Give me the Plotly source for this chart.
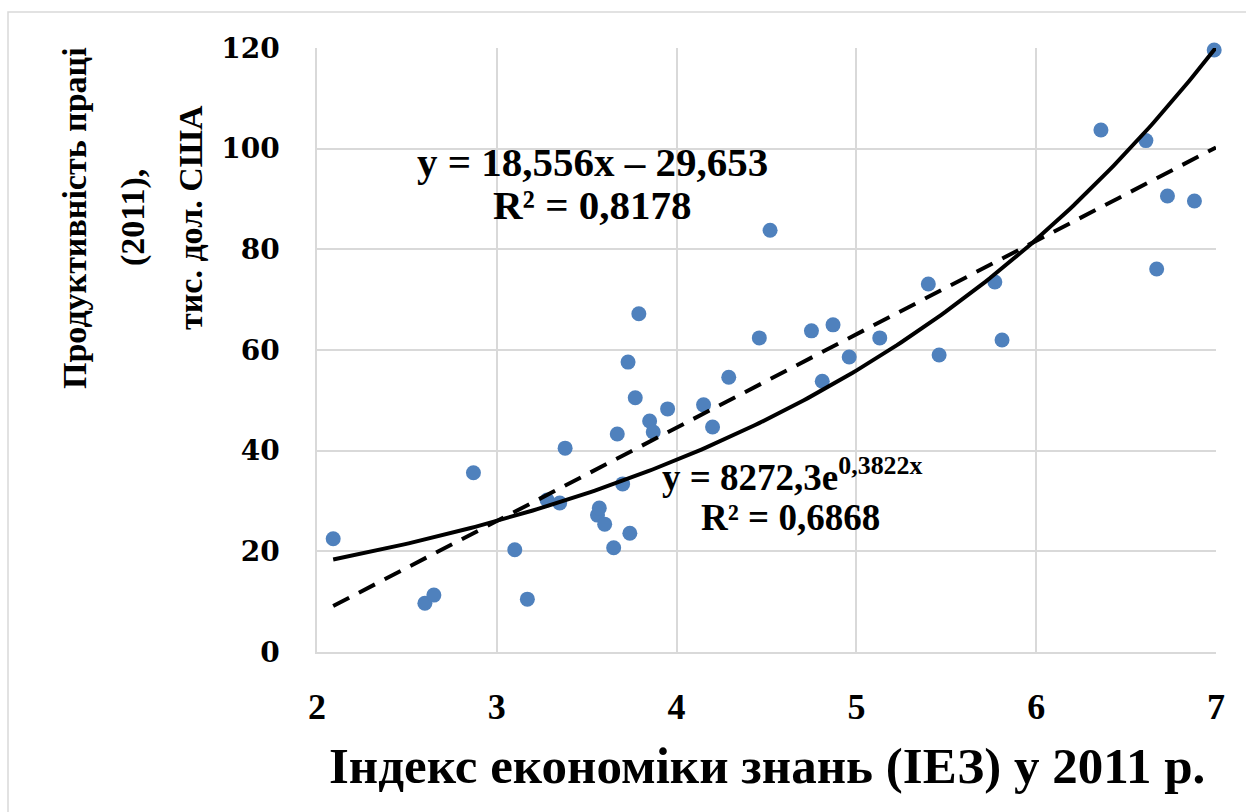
import numpy as np
import plotly.graph_objects as go

# Knowledge economy index (KEI) 2011 vs labour productivity, thousand USD
kei = [2.09, 2.60, 2.65, 2.87, 3.10, 3.17, 3.28, 3.35, 3.38, 3.56, 3.57, 3.60,
       3.65, 3.67, 3.70, 3.73, 3.74, 3.77, 3.79, 3.85, 3.87, 3.95, 4.15, 4.20,
       4.29, 4.46, 4.52, 4.75, 4.81, 4.87, 4.96, 5.13, 5.40, 5.46, 5.77, 5.81,
       6.36, 6.61, 6.67, 6.73, 6.88, 6.99]
productivity = [22.5, 9.7, 11.3, 35.6, 20.3, 10.5, 30.2, 29.6, 40.5, 27.2, 28.6, 25.4,
                20.7, 43.3, 33.4, 57.6, 23.6, 50.5, 67.2, 45.9, 43.7, 48.3, 49.1, 44.7,
                54.6, 62.4, 83.8, 63.8, 53.8, 65.0, 58.6, 62.4, 73.1, 59.0, 73.5, 62.0,
                103.7, 101.6, 76.1, 90.6, 89.6, 119.6]

# Trend line coefficients (as printed on the chart)
lin_slope, lin_icept = 18.556, -29.653
exp_a, exp_b = 8272.3, 0.3822   # in USD; plotted in thousand USD

x_ticks = [2, 3, 4, 5, 6, 7]
y_ticks = [0, 20, 40, 60, 80, 100, 120]

xs = np.linspace(min(kei), 7.0, 200)
lin_y = lin_slope * xs + lin_icept
exp_y = exp_a / 1000.0 * np.exp(exp_b * xs)

fig = go.Figure()
fig.add_trace(go.Scatter(
    x=kei, y=productivity, mode="markers",
    marker=dict(color="#4f81bd", size=15, line=dict(width=0)),
    cliponaxis=False, showlegend=False))
fig.add_trace(go.Scatter(
    x=xs, y=lin_y, mode="lines",
    line=dict(color="black", width=4, dash="18px,11px"),
    showlegend=False))
fig.add_trace(go.Scatter(
    x=xs, y=exp_y, mode="lines",
    line=dict(color="black", width=4),
    cliponaxis=False, showlegend=False))

eq_font = dict(family="Liberation Serif", color="black", weight="bold")
annotations = [
    dict(x=3.535, y=97.4, text="y = 18,556x – 29,653", font=dict(size=41, **eq_font)),
    dict(x=3.535, y=88.8, text="R² = 0,8178", font=dict(size=41, **eq_font)),
    dict(x=4.642, y=35.3, text="y = 8272,3e<sup>0,3822x</sup>", font=dict(size=37, **eq_font)),
    dict(x=4.636, y=26.8, text="R² = 0,6868", font=dict(size=37, **eq_font)),
]
for a in annotations:
    a.update(xref="x", yref="y", showarrow=False, xanchor="center", yanchor="middle")

title_font = dict(family="Liberation Serif", color="black", weight="bold")
# x-axis title
annotations.append(dict(
    xref="paper", yref="paper", x=0.5, y=-0.189, xanchor="center", yanchor="middle",
    text="Індекс економіки знань (ІЕЗ) у 2011 р.", showarrow=False,
    font=dict(size=51, **title_font)))
# y-axis title, one rotated line each
y_title_lines = ["Продуктивність праці", "(2011),", "тис. дол. США"]
y_title_px = [74, 133, 190]
for line, px in zip(y_title_lines, y_title_px):
    annotations.append(dict(
        xref="paper", yref="paper", x=(px - 317) / 899, y=(652 - 218) / 604,
        xanchor="center", yanchor="middle", textangle=-90, showarrow=False,
        text=line, font=dict(size=34, **title_font)))

fig.update_layout(
    width=1246, height=812,
    margin=dict(l=317, r=30, t=48, b=160),
    paper_bgcolor="white", plot_bgcolor="white",
    annotations=annotations,
    shapes=[dict(type="rect", xref="paper", yref="paper",
                 x0=(8 - 317) / 899, x1=(1300 - 317) / 899,
                 y0=(652 - 900) / 604, y1=(652 - 12) / 604,
                 line=dict(color="#d9d9d9", width=1.5), layer="below")],
)
fig.update_xaxes(
    range=[2, 7], tickvals=x_ticks, ticktext=[str(v) for v in x_ticks],
    showgrid=True, gridcolor="#d9d9d9", gridwidth=1.5,
    showline=True, linecolor="#d9d9d9", linewidth=1.5, mirror=False,
    zeroline=False, ticks="", ticklabelstandoff=22,
    tickfont=dict(family="Liberation Serif", size=36, color="black", weight="bold"))
fig.update_yaxes(
    range=[0, 120], tickvals=y_ticks,
    showgrid=True, gridcolor="#d9d9d9", gridwidth=1.5,
    showline=True, linecolor="#d9d9d9", linewidth=1.5,
    zeroline=False, ticks="", ticklabelstandoff=30,
    tickfont=dict(family="DejaVu Serif", size=28, color="black", weight="bold"))

fig.write_html("out.html")
